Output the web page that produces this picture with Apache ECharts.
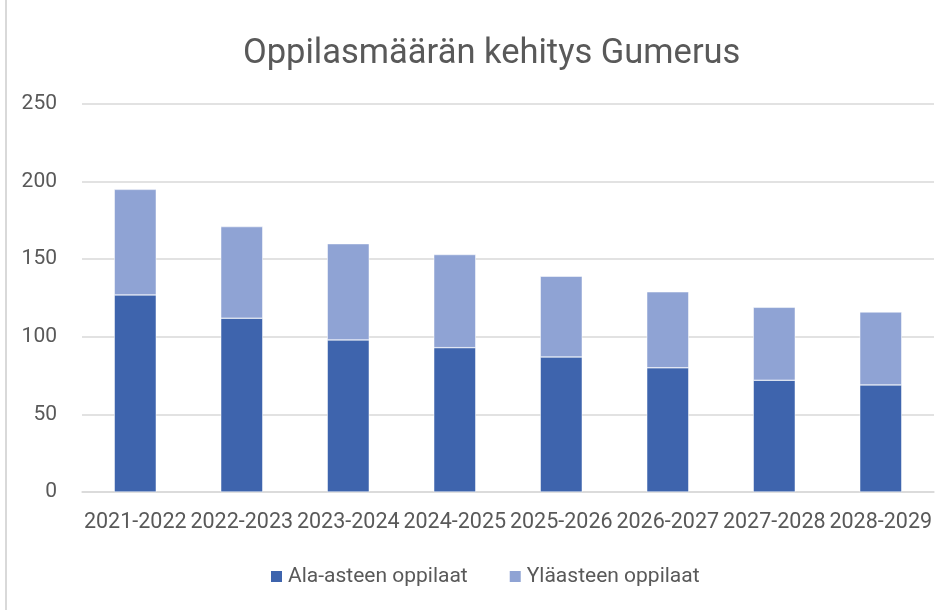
<!DOCTYPE html>
<html><head><meta charset="utf-8">
<script src="https://cdn.jsdelivr.net/npm/echarts@6/dist/echarts.min.js"></script>
<style>html,body{margin:0;padding:0;background:#fff}#c{width:949px;height:610px}</style>
</head><body><div id="c"></div>
<script>
const categories = ['2021-2022','2022-2023','2023-2024','2024-2025','2025-2026','2026-2027','2027-2028','2028-2029'];
const alaAste = [127,112,98,93,87,80,72,69];
const ylaAste = [68,59,62,60,52,49,47,47];
const seriesNames = ['Ala-asteen oppilaat','Yläasteen oppilaat'];
const titleText = 'Oppilasmäärän kehitys Gumerus';

const font = 'Roboto, "Open Sans", sans-serif';
const chart = echarts.init(document.getElementById('c'), null, {renderer:'canvas'});
chart.setOption({
  animation:false,
  backgroundColor:'#fff',
  title:{text:titleText,left:238,top:32,textStyle:{fontFamily:font,fontSize:34.5,fontWeight:'normal',color:'#595959'}},
  graphic:[{type:'line',shape:{x1:6,y1:0,x2:6,y2:610},style:{stroke:'#d9d9d9',lineWidth:2}}],
  legend:{bottom:18,left:264,itemWidth:13,itemHeight:13,itemGap:40,icon:'rect',
    textStyle:{fontFamily:font,fontSize:21,color:'#595959'},data:seriesNames},
  grid:{left:82,right:15,top:104,bottom:118,containLabel:false},
  xAxis:{type:'category',data:categories,
    axisLine:{lineStyle:{color:'#d9d9d9',width:1.5}},axisTick:{show:false},
    axisLabel:{fontFamily:font,fontSize:21.5,color:'#595959',margin:20,interval:0}},
  yAxis:{type:'value',min:0,max:250,interval:50,
    axisLine:{show:false},axisTick:{show:false},
    splitLine:{lineStyle:{color:'#d9d9d9',width:1.5}},
    axisLabel:{fontFamily:font,fontSize:21,color:'#595959',margin:25}},
  series:[
    {name:seriesNames[0],type:'bar',stack:'s',data:alaAste,barWidth:42,
      itemStyle:{color:'#3E64AD',borderColor:'#ffffff',borderWidth:0.5}},
    {name:seriesNames[1],type:'bar',stack:'s',data:ylaAste,barWidth:42,
      itemStyle:{color:'#8FA3D4',borderColor:'#ffffff',borderWidth:0.5}}
  ]
});
</script></body></html>
